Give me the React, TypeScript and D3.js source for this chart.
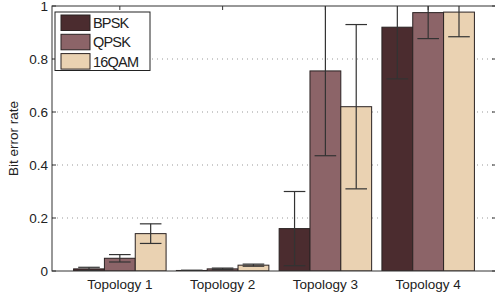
import React from 'react';
import * as d3 from 'd3';

const categories = ['Topology 1', 'Topology 2', 'Topology 3', 'Topology 4'];
const seriesNames = ['BPSK', 'QPSK', '16QAM'];
const seriesColors = ['#4b2c2f', '#8c6468', '#ead2b2'];
// mean bit error rate per series, one entry per topology
const bpsk = [0.008, 0.002, 0.16, 0.92];
const qpsk = [0.048, 0.008, 0.755, 0.975];
const qam16 = [0.141, 0.022, 0.62, 0.977];
// half-width of the error bars
const bpskErr = [0.006, 0.001, 0.14, 0.195];
const qpskErr = [0.014, 0.003, 0.32, 0.098];
const qam16Err = [0.037, 0.004, 0.31, 0.093];
const yTicks = [0, 0.2, 0.4, 0.6, 0.8, 1];

const values = [bpsk, qpsk, qam16];
const errs = [bpskErr, qpskErr, qam16Err];

export default function App() {
  const width = 495;
  const height = 297;
  // right edge of the axes box falls just outside the picture
  const margin = { top: 6, right: -1, bottom: 26, left: 52 };
  const font = '"Liberation Sans", Arial, Helvetica, sans-serif';

  // categories sit at 1..4
  const x = d3.scaleLinear().domain([0.34, 4.66]).range([margin.left, width - margin.right]);
  const y = d3.scaleLinear().domain([0, 1]).range([height - margin.bottom, margin.top]);

  const barW = 0.3;
  const capW = 0.21;
  const x0 = x.range()[0];
  const x1 = x.range()[1];
  const y0 = y(0);
  const y1 = y(1);

  return (
    <svg width={width} height={height} style={{ position: 'absolute', left: 0, top: 0, background: '#fff' }}>
      <defs>
        <clipPath id="plot">
          <rect x={x0} y={y1} width={x1 - x0} height={y0 - y1} />
        </clipPath>
      </defs>

      {/* dotted grid */}
      {yTicks.slice(1, -1).map((t) => (
        <line key={t} x1={x0} x2={x1} y1={y(t)} y2={y(t)} stroke="#999" strokeWidth={1} strokeDasharray="1,4" />
      ))}

      <g clipPath="url(#plot)">
        {categories.map((c, i) =>
          seriesNames.map((s, j) => {
            const cx = i + 1 + (j - 1) * barW;
            const v = values[j][i];
            return (
              <rect
                key={c + s}
                x={x(cx - barW / 2)}
                y={y(v)}
                width={x(cx + barW / 2) - x(cx - barW / 2)}
                height={y0 - y(v)}
                fill={seriesColors[j]}
                stroke="#2a2222"
                strokeWidth={1}
              />
            );
          })
        )}
        {categories.map((c, i) =>
          seriesNames.map((s, j) => {
            const cx = i + 1 + (j - 1) * barW;
            const v = values[j][i];
            const e = errs[j][i];
            return (
              <g key={'e' + c + s} stroke="#333" strokeWidth={1.2}>
                <line x1={x(cx)} x2={x(cx)} y1={y(v - e)} y2={y(v + e)} />
                <line x1={x(cx - capW / 2)} x2={x(cx + capW / 2)} y1={y(v - e)} y2={y(v - e)} />
                <line x1={x(cx - capW / 2)} x2={x(cx + capW / 2)} y1={y(v + e)} y2={y(v + e)} />
              </g>
            );
          })
        )}
      </g>

      {/* frame */}
      <rect x={x0} y={y1} width={x1 - x0} height={y0 - y1} fill="none" stroke="#333" strokeWidth={1} />

      {/* y ticks */}
      {yTicks.map((t) => (
        <g key={'yt' + t}>
          <line x1={x0} x2={x0 + 4} y1={y(t)} y2={y(t)} stroke="#333" />
          <line x1={x1 - 4} x2={x1} y1={y(t)} y2={y(t)} stroke="#333" />
          <text x={x0 - 4} y={y(t)} dy="0.35em" textAnchor="end" fontFamily={font} fontSize={13.5} fill="#222">
            {d3.format('~g')(t)}
          </text>
        </g>
      ))}

      {/* x ticks */}
      {categories.map((c, i) => (
        <g key={'xt' + c}>
          <line x1={x(i + 1)} x2={x(i + 1)} y1={y1} y2={y1 + 4} stroke="#333" />
          <text x={x(i + 1)} y={y0 + 18} textAnchor="middle" fontFamily={font} fontSize={13.5} fill="#222">
            {c}
          </text>
        </g>
      ))}

      <text
        transform={`translate(18,${(y0 + y1) / 2}) rotate(-90)`}
        textAnchor="middle"
        fontFamily={font}
        fontSize={13.5}
        fill="#222"
      >
        Bit error rate
      </text>

      {/* legend */}
      <g>
        <rect x={55} y={12} width={95} height={58.5} fill="#fff" stroke="#222" strokeWidth={1} />
        {seriesNames.map((s, j) => (
          <g key={'lg' + s}>
            <rect x={61} y={15 + j * 19.3} width={29} height={15.5} fill={seriesColors[j]} stroke="#2a2222" />
            <text x={93} y={23 + j * 19.3} dy="0.35em" fontFamily={font} fontSize={14.5} letterSpacing={-0.8} fill="#222">
              {s}
            </text>
          </g>
        ))}
      </g>
    </svg>
  );
}
